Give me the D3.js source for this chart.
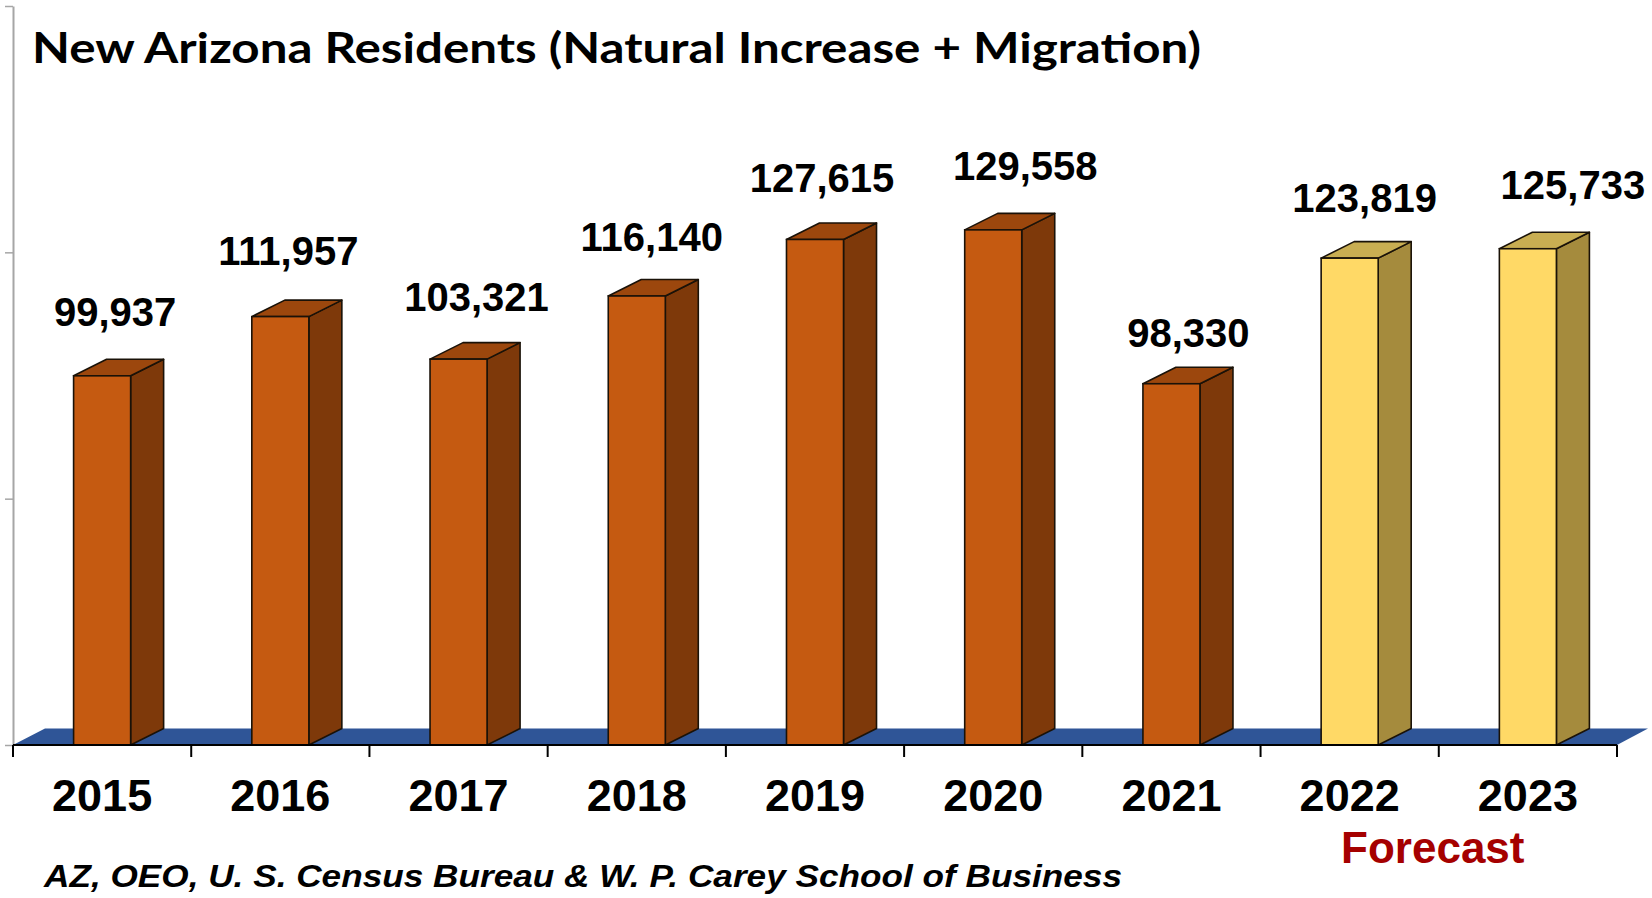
<!DOCTYPE html>
<html>
<head>
<meta charset="utf-8">
<script src="https://cdn.jsdelivr.net/npm/d3@7/dist/d3.min.js"></script>
<style>
  html, body { margin: 0; padding: 0; background: #ffffff; }
  svg { display: block; }
</style>
</head>
<body>
<svg id="chart" width="1652" height="898"></svg>
<script>
// ---- Data ----
const years = ["2015", "2016", "2017", "2018", "2019", "2020", "2021", "2022", "2023"];
const residents = [99937, 111957, 103321, 116140, 127615, 129558, 98330, 123819, 125733];
const isForecast = [false, false, false, false, false, false, false, true, true];
const yTickValues = [25000, 75000, 125000, 175000];
const titleText = "New Arizona Residents (Natural Increase + Migration)";
const sourceText = "AZ, OEO, U. S. Census Bureau & W. P. Carey School of Business";
const forecastText = "Forecast";

// ---- Layout (label nudges as placed in the original, px) ----
const labelNudgeX = [0, -5, 5, 2, -6, 19, 4, 2, 32];
const labelNudgeY = [0, -2, 2, 5, 3, 0, 13, 4, 0];

const svg = d3.select("#chart");
const left = 13, right = 1617, floorY = 745, topY = 6;
const depthX = 33, depthY = 16.5;

const x = d3.scaleBand().domain(years).range([left, right]).paddingInner(0.68).paddingOuter(0.34);
const xCat = d3.scaleBand().domain(years).range([left, right]).padding(0);
const y = d3.scaleLinear().domain([25000, 175000]).range([floorY, topY]);

const colors = {
  actual: { front: "#C55A11", top: "#9C470D", side: "#7E390A" },
  forecast: { front: "#FFD966", top: "#C9AE52", side: "#A58B3D" }
};

// Floor (blue parallelogram)
svg.append("path")
  .attr("d", `M${left},${floorY} L${right},${floorY} L${right + depthX - 2},${floorY - depthY} L${left + depthX - 1},${floorY - depthY} Z`)
  .attr("fill", "#2F5597");

// Y axis (gray)
const yAxis = svg.append("g")
  .attr("transform", `translate(${left},0)`)
  .call(d3.axisLeft(y).tickValues(yTickValues).tickFormat("").tickSize(8).tickSizeOuter(0));
yAxis.select(".domain").attr("stroke", "#A6A6A6").attr("stroke-width", 2);
yAxis.selectAll(".tick line").attr("stroke", "#A6A6A6").attr("stroke-width", 1.5);

// Bars
const data = years.map((yr, i) => ({ year: yr, value: residents[i], forecast: isForecast[i], i }));
const bw = x.bandwidth();
const bars = svg.append("g").selectAll("g.bar").data(data).join("g").attr("class", "bar");

bars.each(function(d) {
  const g = d3.select(this);
  const x0 = x(d.year), x1 = x0 + bw;
  const yt = y(d.value), yb = floorY;
  const c = d.forecast ? colors.forecast : colors.actual;
  g.append("path")
    .attr("d", `M${x1},${yb} L${x1 + depthX},${yb - depthY} L${x1 + depthX},${yt - depthY} L${x1},${yt} Z`)
    .attr("fill", c.side).attr("stroke", "#1a1208").attr("stroke-width", 1.6).attr("stroke-linejoin", "round");
  g.append("path")
    .attr("d", `M${x0},${yt} L${x1},${yt} L${x1 + depthX},${yt - depthY} L${x0 + depthX},${yt - depthY} Z`)
    .attr("fill", c.top).attr("stroke", "#1a1208").attr("stroke-width", 1.6).attr("stroke-linejoin", "round");
  g.append("rect")
    .attr("x", x0).attr("y", yt).attr("width", bw).attr("height", yb - yt)
    .attr("fill", c.front).attr("stroke", "#1a1208").attr("stroke-width", 1.6);
});

// Value labels
const fmt = d3.format(",");
svg.append("g").selectAll("text").data(data).join("text")
  .attr("x", d => x(d.year) + bw / 2 + 13 + labelNudgeX[d.i])
  .attr("y", d => y(d.value) - 50 + labelNudgeY[d.i])
  .attr("text-anchor", "middle")
  .attr("font-family", "Liberation Sans, Arial, sans-serif")
  .attr("font-weight", "bold")
  .attr("font-size", 40)
  .attr("fill", "#000")
  .text(d => fmt(d.value));

// Category axis (front floor edge)
const catAxis = svg.append("g").attr("transform", `translate(0,${floorY})`);
catAxis.append("line").attr("x1", left).attr("x2", right).attr("y1", 0).attr("y2", 0)
  .attr("stroke", "#000").attr("stroke-width", 2);
const boundaries = years.map(yr => xCat(yr)).concat([xCat(years[years.length - 1]) + xCat.bandwidth()]);
catAxis.selectAll("line.tk").data(boundaries).join("line").attr("class", "tk")
  .attr("x1", d => d).attr("x2", d => d).attr("y1", 0).attr("y2", 12)
  .attr("stroke", "#000").attr("stroke-width", 2);
catAxis.selectAll("text").data(years).join("text")
  .attr("x", d => xCat(d) + xCat.bandwidth() / 2)
  .attr("y", 66)
  .attr("text-anchor", "middle")
  .attr("font-family", "Liberation Sans, Arial, sans-serif")
  .attr("font-weight", "bold")
  .attr("font-size", 45)
  .attr("fill", "#000")
  .text(d => d);

// Forecast label
const fc = (xCat("2022") + xCat("2023") + xCat.bandwidth()) / 2;
svg.append("text")
  .attr("x", fc - 6).attr("y", 863)
  .attr("text-anchor", "middle")
  .attr("font-family", "Liberation Sans, Arial, sans-serif")
  .attr("font-weight", "bold")
  .attr("font-size", 44)
  .attr("fill", "#A50000")
  .text(forecastText);

// Title
svg.append("text")
  .attr("x", 32).attr("y", 63)
  .attr("font-family", "Lato, 'Open Sans', sans-serif")
  .attr("font-weight", "bold")
  .attr("font-size", 42)
  .attr("textLength", 1169)
  .attr("lengthAdjust", "spacingAndGlyphs")
  .attr("fill", "#000")
  .text(titleText);

// Source
svg.append("text")
  .attr("x", 44).attr("y", 887)
  .attr("font-family", "Liberation Sans, Arial, sans-serif")
  .attr("font-weight", "bold")
  .attr("font-style", "italic")
  .attr("font-size", 31)
  .attr("textLength", 1078)
  .attr("lengthAdjust", "spacingAndGlyphs")
  .attr("fill", "#000")
  .text(sourceText);
</script>
</body>
</html>
